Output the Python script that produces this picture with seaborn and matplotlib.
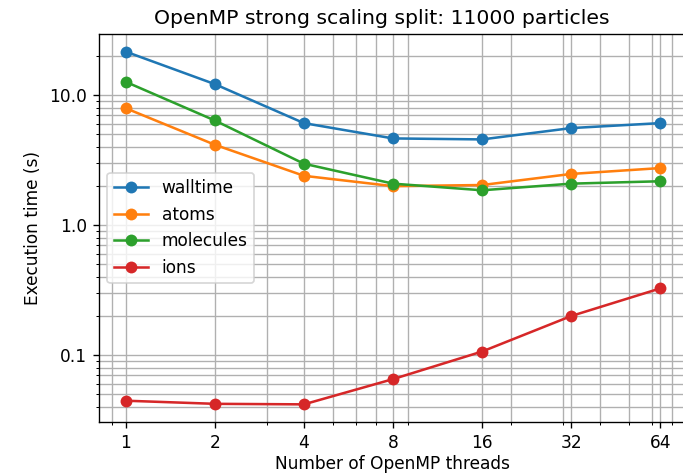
import matplotlib
matplotlib.use("Agg")
import matplotlib.pyplot as plt
import matplotlib.ticker as mticker
import numpy as np
import pandas as pd
import seaborn as sns

threads = [1, 2, 4, 8, 16, 32, 64]
walltime = [21.5, 12.1, 6.07, 4.63, 4.55, 5.56, 6.07]
atoms = [7.9, 4.14, 2.39, 1.99, 2.03, 2.47, 2.74]
molecules = [12.6, 6.36, 2.96, 2.08, 1.85, 2.08, 2.17]
ions = [0.0447, 0.0423, 0.0419, 0.0655, 0.1067, 0.200, 0.326]

series_names = ["walltime", "atoms", "molecules", "ions"]
series_values = [walltime, atoms, molecules, ions]
xtick_labels = ["1", "2", "4", "8", "16", "32", "64"]
ytick_values = [0.1, 1.0, 10.0]

rows = []
for name, vals in zip(series_names, series_values):
    for t, v in zip(threads, vals):
        rows.append({"threads": t, "time": v, "series": name})
df = pd.DataFrame(rows)

DPI = 122
fig, ax = plt.subplots(figsize=(683 / DPI, 474 / DPI), dpi=DPI)
fig.subplots_adjust(left=99 / 683, right=687 / 683, top=1 - 34 / 474, bottom=1 - 422 / 474)

palette = dict(zip(series_names, sns.color_palette("tab10", 4)))
sns.lineplot(data=df, x="threads", y="time", hue="series", hue_order=series_names,
             palette=palette, marker="o", markersize=7, markeredgewidth=0,
             linewidth=1.5, ax=ax)

ax.set_xscale("log")
ax.set_yscale("log")
ax.set_xticks(threads)
ax.set_xticklabels(xtick_labels)
ax.xaxis.set_minor_formatter(mticker.NullFormatter())
ax.set_yticks(ytick_values)
ax.yaxis.set_major_formatter(mticker.FormatStrFormatter("%.1f"))
ax.yaxis.set_minor_formatter(mticker.NullFormatter())
ax.grid(True, which="both", color="#b0b0b0", linewidth=0.8)
ax.set_axisbelow(True)

ax.set_xlabel("Number of OpenMP threads", labelpad=2)
ax.set_ylabel("Execution time (s)")
ax.set_title("OpenMP strong scaling split: 11000 particles", x=0.481)
sns.move_legend(ax, "center left", title=None)

fig.savefig("out.png", dpi=DPI)
